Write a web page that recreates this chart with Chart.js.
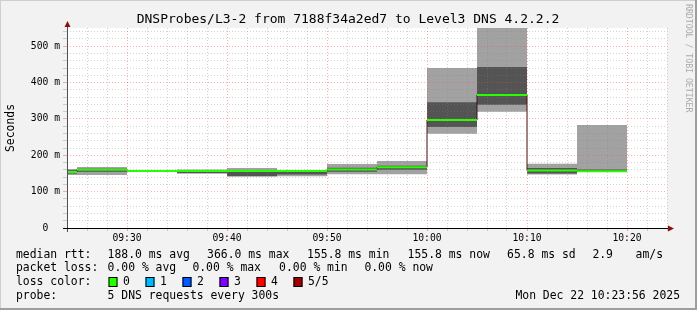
<!DOCTYPE html>
<html>
<head>
<meta charset="utf-8">
<script src="https://cdn.jsdelivr.net/npm/chart.js@4.4.1/dist/chart.umd.min.js"></script>
<style>
  html, body { margin: 0; padding: 0; background: #f2f2f2; overflow: hidden; }
  canvas { display: block; }
</style>
</head>
<body>
<canvas id="rtt" width="697" height="310"></canvas>
<script>
// one slot per probe round (5 pings every 300 s), labelled by its end time
const slotEnd   = ["09:25", "09:30", "09:35", "09:40", "09:45", "09:50", "09:55", "10:00", "10:05", "10:10", "10:15", "10:20"];
const pingMin   = [146, 146, 155.5, 149, 141, 142, 148, 148, 259, 320, 147, 154];
const pingLow   = [150, 155, 156, 151, 143, 147, 155, 160, 278, 339, 150, 154.5];
const medianRtt = [154, 160, 157, 157, 157, 157, 161, 167, 297, 366, 158, 155.8];
const pingHigh  = [159, 163, 157.5, 158, 158, 158, 166, 171, 346, 443, 165, 161];
const pingMax   = [162, 168, 158, 161, 165, 159, 176, 184, 440, 570, 177, 283];

const stepMin = 5;              // minutes per probe round
const startTime = "09:24";      // left edge of the plot
const spanMin = 60;
const yMax = 550;
const yTicks = [];  for (let v = 0; v < yMax; v += 20) yTicks.push(v);
const xTicks = [];  for (let v = 0; v <= spanMin; v += 2) xTicks.push(v);

const rttStats  = ["188.0 ms avg", "366.0 ms max", "155.8 ms min", "155.8 ms now", "65.8 ms sd", "2.9", "am/s"];
const lossStats = ["0.00 % avg", "0.00 % max", "0.00 % min", "0.00 % now"];
const lossLabels = ["0", "1", "2", "3", "4", "5/5"];
const lossColors = ["#26ff00", "#00b8ff", "#0059ff", "#7e00ff", "#ff0000", "#a10000"];

const mono = '"DejaVu Sans Mono", monospace';

const clockMin = t => { const [h, m] = t.split(":").map(Number); return h * 60 + m; };
const t0 = clockMin(startTime);
const toMin = t => clockMin(t) - t0;
function toClock(v) {
  const abs = t0 + v;
  return String(Math.floor(abs / 60)).padStart(2, "0") + ":" + String(abs % 60).padStart(2, "0");
}

const ends = slotEnd.map(toMin);
// stepped series: one point at each slot start, plus the end of the last slot
function steps(values) {
  const pts = ends.map((e, i) => ({ x: e - stepMin, y: values[i] }));
  pts.push({ x: ends[ends.length - 1], y: values[values.length - 1] });
  return pts;
}
const greenData = ends.flatMap((e, i) => [
  { x: e - stepMin, y: medianRtt[i] },
  { x: e, y: medianRtt[i] },
  { x: e, y: null }
]);

const isMajorX = v => (t0 + v) % 10 === 0;
const isMajorY = v => v % 100 === 0;
const gridGray = "rgba(130,130,130,0.35)";
const gridRed  = "rgba(255,70,70,0.45)";

function txt(ctx, s, x, y, size, align, color) {
  ctx.font = size + "px " + mono;
  ctx.textAlign = align || "left";
  ctx.textBaseline = "middle";
  ctx.fillStyle = color || "#000";
  ctx.fillText(s, x, y);
}

const decor = {
  id: "decor",
  beforeDraw(chart) {
    const { ctx, chartArea: a, width: W, height: H } = chart;
    ctx.save();
    ctx.fillStyle = "#f2f2f2";
    ctx.fillRect(0, 0, W, H);
    ctx.fillStyle = "#cfcfcf";
    ctx.fillRect(0, 0, W, 1);
    ctx.fillRect(0, 0, 1, H);
    ctx.fillStyle = "#9e9e9e";
    ctx.fillRect(W - 2, 0, 2, H);
    ctx.fillRect(0, H - 2, W, 2);
    ctx.fillStyle = "#fff";
    ctx.fillRect(a.left, a.top, a.right - a.left, a.bottom - a.top);
    ctx.restore();
  },
  afterDraw(chart) {
    const { ctx, chartArea: a } = chart;
    ctx.save();
    // axes
    ctx.strokeStyle = "#505050";
    ctx.lineWidth = 1;
    ctx.beginPath();
    ctx.moveTo(a.left + 0.5, a.top - 2);
    ctx.lineTo(a.left + 0.5, a.bottom + 4);
    ctx.stroke();
    ctx.strokeStyle = "#000";
    ctx.beginPath();
    ctx.moveTo(a.left - 4, a.bottom + 0.5);
    ctx.lineTo(a.right + 2, a.bottom + 0.5);
    ctx.stroke();
    ctx.fillStyle = "#8b1010";
    ctx.beginPath();
    ctx.moveTo(a.left + 0.5, a.top - 7);
    ctx.lineTo(a.left - 2.5, a.top - 1);
    ctx.lineTo(a.left + 3.5, a.top - 1);
    ctx.closePath();
    ctx.fill();
    ctx.beginPath();
    ctx.moveTo(a.right + 7, a.bottom + 0.5);
    ctx.lineTo(a.right + 1, a.bottom - 2.5);
    ctx.lineTo(a.right + 1, a.bottom + 3.5);
    ctx.closePath();
    ctx.fill();

    // title
    txt(ctx, "DNSProbes/L3-2 from 7188f34a2ed7 to Level3 DNS 4.2.2.2", 348, 20, 13, "center");

    // legend
    const rttX = [107.6, 207.1, 307.1, 407.6, 507.1, 592.4, 635.6];
    txt(ctx, "median rtt:", 16, 255, 11.4);
    rttStats.forEach((s, i) => txt(ctx, s, rttX[i], 255, 11.4));
    const lossX = [107.6, 192.4, 279.1, 364.4];
    txt(ctx, "packet loss:", 16, 268.5, 11.4);
    lossStats.forEach((s, i) => txt(ctx, s, lossX[i], 268.5, 11.4));
    txt(ctx, "loss color:", 16, 282, 11.4);
    lossLabels.forEach((s, i) => {
      const bx = 108.5 + i * 37;
      ctx.fillStyle = lossColors[i];
      ctx.fillRect(bx, 277, 9, 10);
      ctx.strokeStyle = "#000";
      ctx.strokeRect(bx + 0.5, 277.5, 8, 9);
      txt(ctx, s, bx + 14.5, 282, 11.4);
    });
    txt(ctx, "probe:", 16, 296, 11.4);
    txt(ctx, "5 DNS requests every 300s", 107.6, 296, 11.4);
    txt(ctx, "Mon Dec 22 10:23:56 2025", 680, 296, 11.4, "right");

    // side credit
    ctx.translate(688, 4);
    ctx.rotate(Math.PI / 2);
    txt(ctx, "RRDTOOL / TOBI OETIKER", 0, 0, 8.2, "left", "#ababab");
    ctx.restore();
  }
};

const band = (values, fill, color, order) => ({
  type: "line", data: steps(values), stepped: "before", borderWidth: 0,
  borderColor: "rgba(0,0,0,0)", backgroundColor: color, fill, pointRadius: 0, clip: 0, order
});

new Chart(document.getElementById("rtt"), {
  type: "line",
  data: {
    datasets: [
      band(pingMin, false, "rgba(0,0,0,0)", 9),
      band(pingMax, 0, "#a2a2a2", 8),
      band(pingLow, false, "rgba(0,0,0,0)", 7),
      band(pingHigh, 2, "#545454", 6),
      { type: "line", data: steps(medianRtt), stepped: "before", borderColor: "#3a1212", borderWidth: 1,
        pointRadius: 0, fill: false, clip: 0, order: 2 },
      { type: "line", data: greenData, borderColor: "#26ff00", borderWidth: 2,
        pointRadius: 0, fill: false, spanGaps: false, clip: 0, order: 1 }
    ]
  },
  options: {
    responsive: false,
    animation: false,
    devicePixelRatio: 1,
    layout: { padding: { top: 28, right: 30, bottom: 62, left: 0 } },
    plugins: { legend: { display: false }, tooltip: { enabled: false } },
    scales: {
      x: {
        type: "linear",
        min: 0,
        max: spanMin,
        afterFit: s => { s.height = 20; },
        afterBuildTicks: s => { s.ticks = xTicks.map(v => ({ value: v })); },
        ticks: {
          autoSkip: false, maxRotation: 0, padding: 2, color: "#000",
          font: { family: mono, size: 9.7 },
          callback: v => isMajorX(v) ? toClock(v) : ""
        },
        grid: {
          z: 1, tickLength: 3,
          color: c => isMajorX(c.tick.value) ? gridRed : gridGray,
          tickColor: c => isMajorX(c.tick.value) ? gridRed : gridGray
        },
        border: { display: false, dash: [1, 2] }
      },
      y: {
        min: 0,
        max: yMax,
        afterFit: s => { s.width = 67; },
        afterBuildTicks: s => { s.ticks = yTicks.map(v => ({ value: v })); },
        ticks: {
          autoSkip: false, padding: 3, color: "#000",
          font: { family: mono, size: 9.7 },
          callback: v => v === 0 ? "0  " : (isMajorY(v) ? v + " m" : "")
        },
        grid: {
          z: 1, tickLength: 4,
          color: c => isMajorY(c.tick.value) ? gridRed : gridGray,
          tickColor: c => isMajorY(c.tick.value) ? gridRed : gridGray
        },
        border: { display: false, dash: [1, 2] },
        title: {
          display: true, text: "Seconds", color: "#000",
          font: { family: mono, size: 11.4 }, padding: { top: 4, bottom: 4 }
        }
      }
    }
  },
  plugins: [decor]
});
</script>
</body>
</html>
